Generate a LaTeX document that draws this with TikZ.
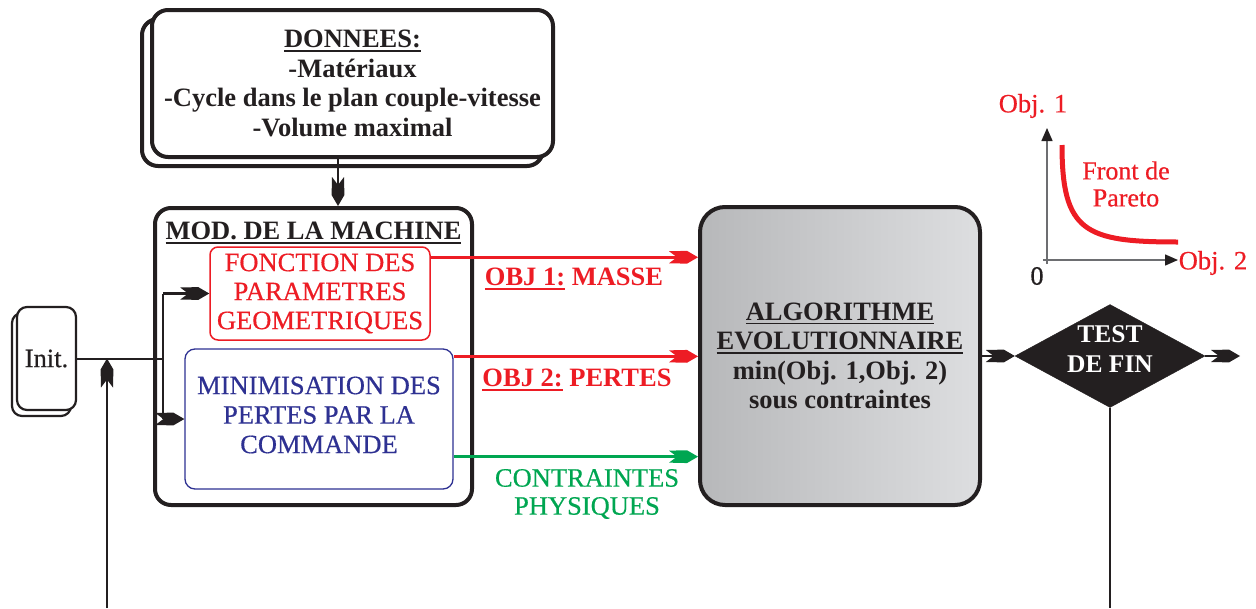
\documentclass[tikz,border=0pt]{standalone}
\usepackage{fontspec}
\setmainfont{Liberation Serif}
\newfontfamily\heavyfont[FakeBold=0.5]{Liberation Serif}
\usetikzlibrary{arrows.meta,shapes.geometric,calc}
\definecolor{cred}{HTML}{ED1C24}
\definecolor{cblue}{HTML}{2E3192}
\definecolor{cgreen}{HTML}{00A651}
\definecolor{cdark}{HTML}{231F20}
\definecolor{cgrayL}{HTML}{B7B8BA}
\definecolor{cgrayR}{HTML}{DDDEE0}
\definecolor{caxis}{HTML}{6D6E71}
\newcommand\ulin[1]{\setbox0=\hbox{#1}\leavevmode\rlap{\rule[-4pt]{\wd0}{1.6pt}}\box0\relax}
\newcommand\fsz[2]{\fontsize{#1}{#2}\selectfont}
\pgfdeclarearrow{
  name = Fletch,
  setup code = {
    \pgfarrowssettipend{0pt}
    \pgfarrowssetbackend{-29pt}
    \pgfarrowssetlineend{-18pt}
  },
  drawing code = {
    \pgfpathmoveto{\pgfpoint{0pt}{0pt}}
    \pgfpathlineto{\pgfpoint{-11pt}{6.4pt}}
    \pgfpathlineto{\pgfpoint{-29pt}{6pt}}
    \pgfpathlineto{\pgfpoint{-21pt}{0pt}}
    \pgfpathlineto{\pgfpoint{-29pt}{-6pt}}
    \pgfpathlineto{\pgfpoint{-11pt}{-6.4pt}}
    \pgfpathclose
    \pgfusepathqfill
  }
}
\begin{document}
\begin{tikzpicture}[x=1pt,y=-1pt,
  bigbox/.style={draw=cdark, line width=4pt, rounded corners=16pt, fill=white, inner sep=0pt},
  initbox/.style={draw=cdark, line width=2.2pt, rounded corners=10pt, fill=white, inner sep=0pt,
    minimum width=59pt, minimum height=103pt},
  plain/.style={draw=cdark, line width=2pt},
  arr/.style={draw=cdark, fill=cdark, line width=2.2pt, -Fletch},
  redarr/.style={draw=cred, fill=cred, line width=2.5pt, -Fletch},
  greenarr/.style={draw=cgreen, fill=cgreen, line width=2.5pt, -Fletch},
  axis/.style={draw=caxis, line width=1.5pt, -{Triangle[length=13pt,width=11pt,color=cdark]}},
  bt/.style={font=\bfseries\fsz{26.5}{29.5}, text=cdark, align=center, inner sep=0pt},
  rt/.style={font=\heavyfont\fsz{26.5}{29}, align=center, inner sep=0pt}
]
\useasboundingbox (0,0) rectangle (1256,608);

% DONNEES
\node[bigbox, minimum width=401pt, minimum height=147pt] (donb) at (342.5,92.5) {};
\node[bigbox, bt, minimum width=401pt, minimum height=147pt] (don) at (352.5,83.5)
  {\ulin{DONNEES:}\\-Matériaux\\-Cycle dans le plan couple-vitesse\\-Volume maximal};

% MOD box
\node[bigbox, minimum width=317pt, minimum height=297pt] (mod) at (313.5,356.5) {};
\node[bt] (modt) at (313.5,233) {\ulin{MOD. DE LA MACHINE}};
\node[rt, draw=cred, text=cred, line width=1.5pt, rounded corners=8pt,
  minimum width=220pt, minimum height=93pt] (fpg) at (320,293.5)
  {FONCTION DES\\PARAMETRES\\GEOMETRIQUES};
\node[draw=cblue, line width=1.3pt, rounded corners=10pt, inner sep=0pt,
  minimum width=268pt, minimum height=140pt] (bmin) at (319,419) {};
\node[rt, text=cblue, font=\heavyfont\fsz{26.5}{29.5}] (bmint) at (319,415)
  {MINIMISATION DES\\PERTES PAR LA\\COMMANDE};

% Init
\node[initbox] (initb) at (41.5,364.5) {};
\node[initbox, font=\heavyfont\fsz{26.5}{29}, text=cdark] (init) at (46.5,358.5) {Init.};

% Algorithm
\node[bt, draw=cdark, line width=4pt, rounded corners=25pt, left color=cgrayL, right color=cgrayR,
  minimum width=280pt, minimum height=298pt] (algo) at (840,356)
  {\ulin{ALGORITHME}\\\ulin{EVOLUTIONNAIRE}\\min(Obj. 1,Obj. 2)\\sous contraintes};

% Test
\node[diamond, fill=cdark, draw=cdark, minimum width=190pt, minimum height=103pt, inner sep=0pt] (dia) at (1110,356) {};
\node[bt, text=white, font=\bfseries\fsz{25.5}{29.5}] (diat) at (1110,349) {TEST\\DE FIN};

% connectors
\coordinate (ax) at (338,0);
\draw[arr] (ax |- don.south) -- (ax |- mod.north);
\coordinate (jn) at (163,0);
\draw[plain] (init.east) -- (jn |- init.east);
\draw[plain] (jn |- fpg.west) -- (jn |- bmin.west);
\draw[arr] (jn |- fpg.west) -- (fpg.west);
\draw[arr] (jn |- bmin.west) -- (bmin.west);
\coordinate (fb) at (107,608);
\draw[arr] (fb) -- (fb |- init.east);

\coordinate (s1) at ($(fpg.north east)+(0,11)$);
\coordinate (s2) at ($(bmin.north east)+(0,8)$);
\coordinate (s3) at ($(bmin.south east)+(0,-33)$);
\draw[redarr] (s1) -- (s1 -| algo.west);
\draw[redarr] (s2) -- (s2 -| algo.west);
\draw[greenarr] (s3) -- (s3 -| algo.west);

\node[bt, text=cred] (o1) at (574,279) {\ulin{OBJ 1:} MASSE};
\node[bt, text=cred] (o2) at (577,380) {\ulin{OBJ 2:} PERTES};
\node[rt, text=cgreen, font=\heavyfont\fsz{26.5}{28}] (ct) at (587,494) {CONTRAINTES\\PHYSIQUES};

\draw[arr] (algo.east) -- (dia.west);
\coordinate (out) at (1240,356);
\draw[arr] (dia.east) -- (out);
\draw[plain] (dia.south) -- (dia.south |- fb);

% Pareto chart
\draw[axis] (1047,264) -- (1047,128);
\draw[axis] (1043,260) -- (1178,260);
\draw[cred, line width=5pt] (1062,145) .. controls (1062,232) and (1085,242) .. (1178,242);
\node[rt, text=cred] (ob1) at (1033,106) {Obj. 1};
\node[rt, text=cred] (ob2) at (1213,263) {Obj. 2};
\node[rt, text=cdark] (zero) at (1037,276) {0};
\node[rt, text=cred, font=\heavyfont\fsz{26}{27}] (fp) at (1126,184) {Front de\\Pareto};
\end{tikzpicture}
\end{document}
